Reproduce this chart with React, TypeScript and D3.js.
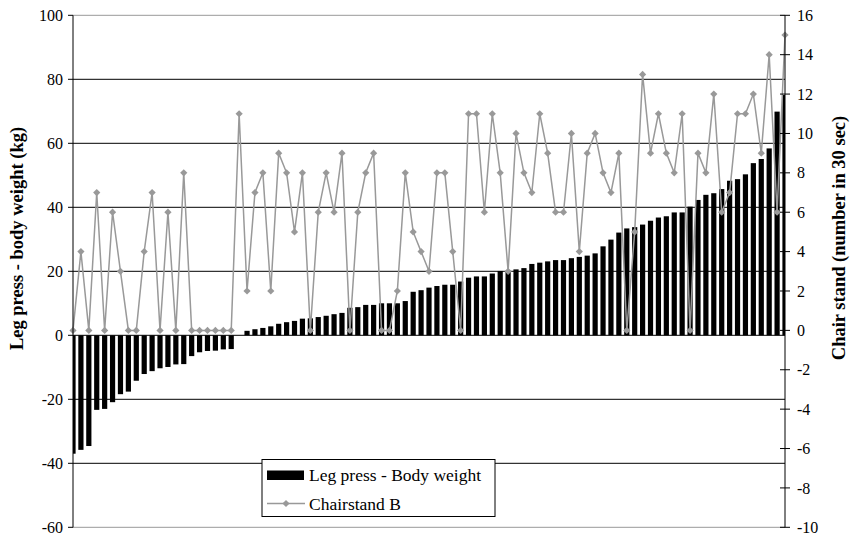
import React from "react";
import * as d3 from "d3";

// Leg press minus body weight (kg), sorted ascending, one value per participant
const legPress: number[] = [
  -37.0, -35.8, -34.6, -23.3, -23.0, -20.9, -18.4, -17.6, -14.2, -12.1,
  -11.2, -10.3, -9.9, -9.1, -9.0, -6.5, -5.3, -4.9, -4.8, -4.4,
  -4.3, 0, 1.4, 1.9, 2.3, 2.8, 3.6, 4.1, 4.5, 5.2,
  5.3, 5.7, 6.1, 6.6, 7.0, 8.6, 8.8, 9.5, 9.5, 10.0,
  10.0, 10.0, 10.7, 13.6, 14.1, 14.9, 15.4, 15.8, 15.8, 16.8,
  18.0, 18.4, 18.4, 19.3, 20.1, 20.1, 20.6, 21.0, 22.3, 22.7,
  23.1, 23.5, 23.5, 24.1, 24.5, 24.9, 25.6, 27.8, 29.9, 32.1,
  33.4, 33.8, 34.6, 35.8, 36.8, 37.2, 38.4, 38.4, 40.2, 42.3,
  43.9, 44.4, 45.7, 48.3, 48.8, 50.3, 53.8, 55.1, 58.4, 69.9,
  75.1,
];

// Chair stand B (number in 30 sec) for the same participants
const chairStand: number[] = [
  0, 4, 0, 7, 0, 6, 3, 0, 0, 4,
  7, 0, 6, 0, 8, 0, 0, 0, 0, 0,
  0, 11, 2, 7, 8, 2, 9, 8, 5, 8,
  0, 6, 8, 6, 9, 0, 6, 8, 9, 0,
  0, 2, 8, 5, 4, 3, 8, 8, 4, 0,
  11, 11, 6, 11, 8, 3, 10, 8, 7, 11,
  9, 6, 6, 10, 4, 9, 10, 8, 7, 9,
  0, 5, 13, 9, 11, 9, 8, 11, 0, 9,
  8, 12, 6, 7, 11, 11, 12, 9, 14, 6,
  15,
];

const leftTicks: number[] = [-60, -40, -20, 0, 20, 40, 60, 80, 100];
const rightTicks: number[] = [-10, -8, -6, -4, -2, 0, 2, 4, 6, 8, 10, 12, 14, 16];

const seriesNames: string[] = ["Leg press - Body weight", "Chairstand B"];
const leftTitle = "Leg press - body weight (kg)";
const rightTitle = "Chair stand (number in 30 sec)";

const W = 850;
const H = 540;
const left = 73;
const right = 785;
const top = 15.3;
const bottom = 527.3;
const GREY = "#999999";
const txt: React.CSSProperties = { fontFamily: '"Liberation Serif", "DejaVu Serif", serif' };

export default function App() {
  const idx = d3.range(legPress.length);
  const x = d3.scalePoint<number>().domain(idx).range([left, right]).padding(0);
  const yL = d3.scaleLinear().domain([-60, 100]).range([bottom, top]);
  const yR = d3.scaleLinear().domain([-10, 16]).range([bottom, top]);
  const barW = 5.2;

  const line = d3
    .line<number>()
    .x((_, i) => x(i) as number)
    .y((d) => yR(d));

  const diamond = (cx: number, cy: number, r: number) =>
    `M${cx},${cy - r}L${cx + r},${cy}L${cx},${cy + r}L${cx - r},${cy}Z`;

  const legX = 262;
  const legY = 459.5;

  return (
    <svg
      width={W}
      height={H}
      style={{ position: "absolute", left: 0, top: 0, background: "#fff" }}
    >
      <defs>
        <clipPath id="plotClip">
          <rect x={left} y={top} width={right - left} height={bottom - top} />
        </clipPath>
      </defs>

      {/* horizontal gridlines */}
      {leftTicks
        .filter((t) => t > -60 && t < 100)
        .map((t) => (
          <line key={`g${t}`} x1={left} x2={right} y1={yL(t)} y2={yL(t)} stroke="#000" strokeWidth={1} />
        ))}
      <line x1={left} x2={right} y1={top} y2={top} stroke={GREY} strokeWidth={1} />
      <line x1={left} x2={right} y1={bottom} y2={bottom} stroke={GREY} strokeWidth={1} />

      {/* bars */}
      <g clipPath="url(#plotClip)">
        {legPress.map((v, i) => (
          <rect
            key={`b${i}`}
            x={(x(i) as number) - barW / 2}
            y={Math.min(yL(0), yL(v))}
            width={barW}
            height={Math.abs(yL(v) - yL(0))}
            fill="#000"
          />
        ))}
      </g>

      {/* chair stand line */}
      <path d={line(chairStand) ?? ""} fill="none" stroke={GREY} strokeWidth={1.5} />
      {chairStand.map((v, i) => (
        <path key={`m${i}`} d={diamond(x(i) as number, yR(v), 3.6)} fill={GREY} />
      ))}

      {/* left axis */}
      <line x1={left} x2={left} y1={top} y2={bottom} stroke="#000" strokeWidth={1} />
      {leftTicks.map((t) => (
        <g key={`l${t}`}>
          <line x1={left - 5} x2={left} y1={yL(t)} y2={yL(t)} stroke="#000" />
          <text x={left - 10} y={yL(t)} dy="0.35em" textAnchor="end" fontSize={16} style={txt}>
            {t}
          </text>
        </g>
      ))}

      {/* right axis */}
      <line x1={right} x2={right} y1={top} y2={bottom} stroke="#000" strokeWidth={1} />
      {rightTicks.map((t) => (
        <g key={`r${t}`}>
          <line x1={right - 5} x2={right + 5} y1={yR(t)} y2={yR(t)} stroke="#000" />
          <text x={right + 12} y={yR(t)} dy="0.35em" textAnchor="start" fontSize={16} style={txt}>
            {t}
          </text>
        </g>
      ))}

      {/* axis titles */}
      <text
        transform={`translate(23,238.5) rotate(-90)`}
        textAnchor="middle"
        fontSize={18.5}
        fontWeight="bold"
        style={txt}
      >
        {leftTitle}
      </text>
      <text
        transform={`translate(845,238) rotate(-90)`}
        textAnchor="middle"
        fontSize={18.5}
        fontWeight="bold"
        style={txt}
      >
        {rightTitle}
      </text>

      {/* legend */}
      <rect x={legX} y={legY} width={233} height={57} fill="#fff" stroke="#000" strokeWidth={1} />
      <rect x={legX + 5} y={legY + 11} width={37} height={9.5} fill="#000" />
      <text x={legX + 47} y={legY + 21} fontSize={17.5} style={txt}>
        {seriesNames[0]}
      </text>
      <line x1={legX + 5} x2={legX + 43} y1={legY + 44} y2={legY + 44} stroke={GREY} strokeWidth={1.5} />
      <path d={diamond(legX + 24, legY + 44, 3.6)} fill={GREY} />
      <text x={legX + 47} y={legY + 50} fontSize={17.5} style={txt}>
        {seriesNames[1]}
      </text>
    </svg>
  );
}
